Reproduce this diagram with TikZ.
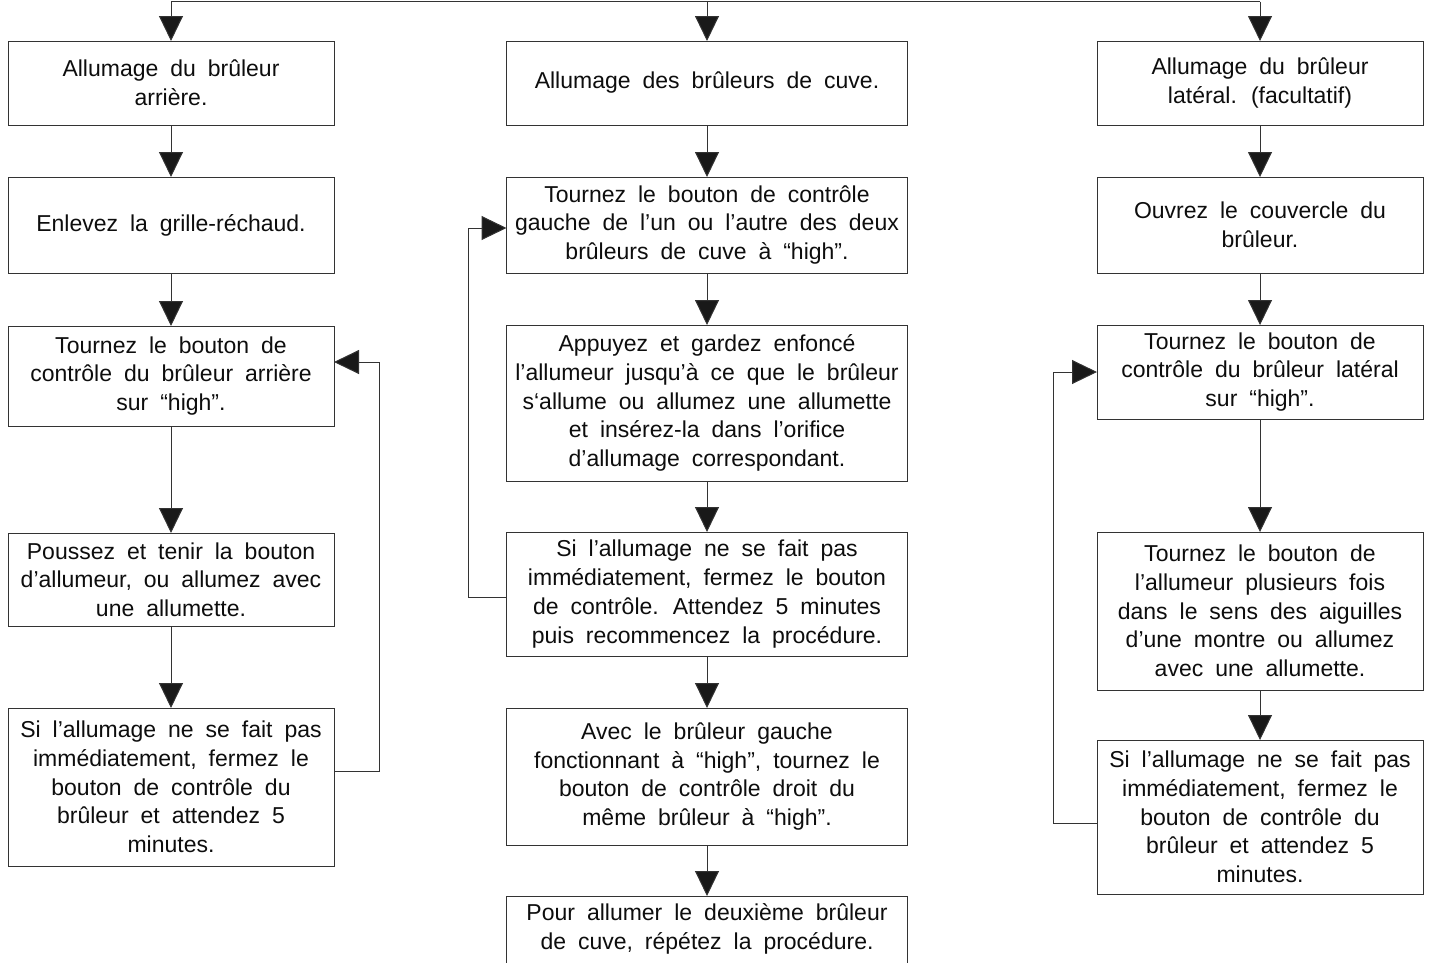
\documentclass[tikz,border=0pt]{standalone}
\usepackage{fontspec}
\setmainfont{Liberation Sans}
\usetikzlibrary{positioning, arrows.meta}

\newcommand{\boxfont}{\fontsize{23}{28.7}\selectfont\spaceskip=0.52em\relax}

\tikzset{
  box/.style={draw=black!80, line width=1pt, align=center, inner sep=0pt,
    outer sep=0pt, text=black!95, font=\boxfont},
  lbox/.style={box, minimum width=326pt},
  mbox/.style={box, minimum width=401pt},
  line/.style={draw=black!80, line width=1pt},
  tip/.style={line, -{Triangle[length=25pt,width=24pt,fill=black!90]}},
}

\begin{document}
\begin{tikzpicture}
\useasboundingbox (0,0) rectangle (1429pt,-962pt);
\clip (0,0) rectangle (1429pt,-962pt);

% left column
\node[lbox, minimum height=84pt] (L1) at (171pt,-83pt) {Allumage du brûleur\\arrière.};
\node[lbox, minimum height=96pt, below=52pt of L1] (L2) {Enlevez la grille-réchaud.};
\node[lbox, minimum height=100pt, below=53pt of L2] (L3)
    {Tournez le bouton de\\contrôle du brûleur arrière\\sur “high”.};
\node[lbox, minimum height=93pt, below=107pt of L3] (L4)
    {Poussez et tenir la bouton\\d’allumeur, ou allumez avec\\une allumette.};
\node[lbox, minimum height=158pt, below=82pt of L4] (L5)
    {Si l’allumage ne se fait pas\\immédiatement, fermez le\\bouton de contrôle du\\brûleur et attendez 5\\minutes.};

% middle column
\node[mbox, minimum height=84pt] (M1) at (707pt,-83pt) {Allumage des brûleurs de cuve.};
\node[mbox, minimum height=96pt, below=52pt of M1] (M2)
    {Tournez le bouton de contrôle\\gauche de l’un ou l’autre des deux\\brûleurs de cuve à “high”.};
\node[mbox, minimum height=156pt, below=52pt of M2] (M3)
    {Appuyez et gardez enfoncé\\l’allumeur jusqu’à ce que le brûleur\\s‘allume ou allumez une allumette\\et insérez-la dans l’orifice\\d’allumage correspondant.};
\node[mbox, minimum height=124pt, below=51pt of M3] (M4)
    {Si l’allumage ne se fait pas\\immédiatement, fermez le bouton\\de contrôle. Attendez 5 minutes\\puis recommencez la procédure.};
\node[mbox, minimum height=137pt, below=52pt of M4] (M5)
    {Avec le brûleur gauche\\fonctionnant à “high”, tournez le\\bouton de contrôle droit du\\même brûleur à “high”.};
\node[mbox, minimum height=90pt, below=51pt of M5] (M6)
    {Pour allumer le deuxième brûleur\\de cuve, répétez la procédure.\\\mbox{}};

% right column
\node[lbox, minimum height=84pt] (R1) at (1260pt,-83pt) {Allumage du brûleur\\latéral. (facultatif)};
\node[lbox, minimum height=96pt, below=52pt of R1] (R2) {Ouvrez le couvercle du\\brûleur.};
\node[lbox, minimum height=94pt, below=52pt of R2] (R3)
    {Tournez le bouton de\\contrôle du brûleur latéral\\sur “high”.};
\node[lbox, minimum height=158pt, below=113pt of R3] (R4)
    {Tournez le bouton de\\l’allumeur plusieurs fois\\dans le sens des aiguilles\\d’une montre ou allumez\\avec une allumette.};
\node[lbox, minimum height=154pt, below=50pt of R4] (R5)
    {Si l’allumage ne se fait pas\\immédiatement, fermez le\\bouton de contrôle du\\brûleur et attendez 5\\minutes.};

% top rail
\coordinate (top) at (0,-1.5pt);
\draw[line] (L1.north |- top) -- (R1.north |- top);
\foreach \n in {L1,M1,R1}
  \draw[tip] (\n.north |- top) -- (\n.north);

% steps
\foreach \a/\b in {L1/L2,L2/L3,L3/L4,L4/L5,M1/M2,M2/M3,M3/M4,M4/M5,M5/M6,R1/R2,R2/R3,R3/R4,R4/R5}
  \draw[tip] (\a) -- (\b);

% retry loops
\draw[tip] ([yshift=16pt]L5.east) -- ++(45pt,0) |- ([yshift=14pt]L3.east);
\draw[tip] ([yshift=-3pt]M4.west) -- ++(-38pt,0) |- ([yshift=-3pt]M2.west);
\draw[tip] ([yshift=-6pt]R5.west) -- ++(-44pt,0) |- (R3.west);
\end{tikzpicture}
\end{document}
